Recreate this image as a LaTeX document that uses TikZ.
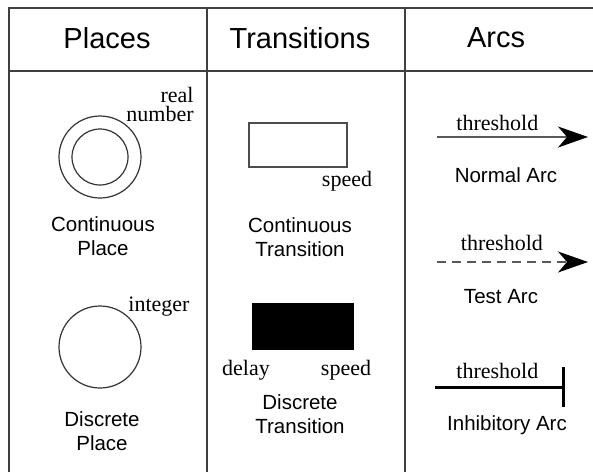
\documentclass[tikz,border=0pt]{standalone}
\usepackage{fontspec}
\setmainfont{Liberation Serif}
\setsansfont{Liberation Sans}
\usetikzlibrary{arrows.meta}

\begin{document}
\begin{tikzpicture}[x=1pt, y=-1pt,
  head/.style={font=\sffamily\fontsize{29}{29}\selectfont},
  caption/.style={font=\sffamily\fontsize{20.5}{24}\selectfont, align=center},
  tag/.style={font=\fontsize{22}{17}\selectfont, inner sep=0pt, text=black},
  place/.style={draw=black!80, line width=1.2pt, circle, minimum size=82pt, inner sep=0pt},
  trans/.style={draw=black!70, line width=1.2pt, minimum width=98pt, minimum height=44pt, inner sep=0pt},
  arc/.style={black!65, line width=2pt},
  tip/.style={-{Stealth[length=30pt, width=21pt, inset=9pt, color=black]}}]
\useasboundingbox (0,0) rectangle (593,472);
\draw[black!75, line width=1.5pt] (9,472) -- (9,8) -- (593,8) (9,71) -- (593,71)
  (207,8) -- (207,472) (405,8) -- (405,472);
\node[head] (places) at (107,38) {Places};
\node[head] (transitions) at (300,38) {Transitions};
\node[head] (arcs) at (496,38) {Arcs};
\node[place] (cplace) at (100,157) {};
\node[place, minimum size=56pt] (cplacein) at (cplace) {};
\node[tag, font=\fontsize{22}{19}\selectfont, align=right] (real) at (160,104) {real\\number};
\node[caption] (ctext) at (103,236) {Continuous\\Place};
\node[place] (dplace) at (100,347) {};
\node[tag] (integer) at (159,307) {integer};
\node[caption] (dtext) at (102,431) {Discrete\\Place};
\node[trans] (ctrans) at (298,145) {};
\node[tag] (cspeed) at (347,181) {speed};
\node[caption] (cttext) at (300,237) {Continuous\\Transition};
\node[trans, draw=black, fill=black, minimum width=100pt, minimum height=45pt] (dtrans) at (303,326.5) {};
\node[tag] (delay) at (246,370) {delay};
\node[tag] (dspeed) at (346,370) {speed};
\node[caption] (dttext) at (300,414) {Discrete\\Transition};
\coordinate (na) at (437,137);
\coordinate (nb) at (588,137);
\draw[arc, tip] (na) -- node[tag, pos=0.4, above=5pt] {threshold} (nb);
\node[caption] (ntext) at (506,175) {Normal Arc};
\coordinate (ta) at (437,262);
\coordinate (tb) at (588,262);
\draw[arc, tip, dash pattern=on 9pt off 6pt] (ta) -- node[tag, pos=0.43, above=10pt] {threshold} (tb);
\node[caption] (ttext) at (501,297) {Test Arc};
\coordinate (ia) at (435,387);
\coordinate (ib) at (565,387);
\draw[line width=3pt, -{Bar[width=40pt, line width=3pt]}] (ia) -- node[tag, pos=0.48, above=7pt] {threshold} (ib);
\node[caption] (itext) at (507,425) {Inhibitory Arc};
\end{tikzpicture}
\end{document}
